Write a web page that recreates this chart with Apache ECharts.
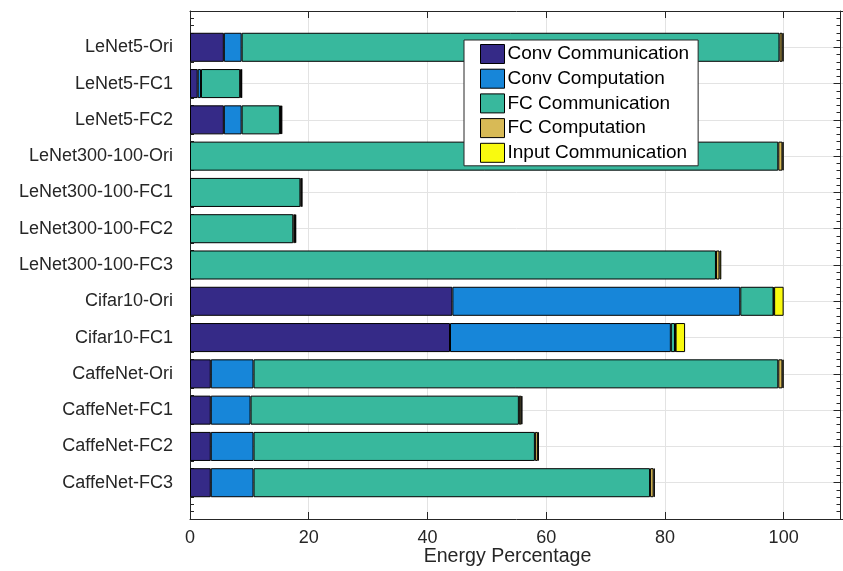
<!DOCTYPE html>
<html>
<head>
<meta charset="utf-8">
<script src="https://cdn.jsdelivr.net/npm/echarts@6/dist/echarts.min.js"></script>
<style>
  html, body { margin: 0; padding: 0; background: #ffffff; }
  #chart { width: 843px; height: 571px; }
</style>
</head>
<body>
<div id="chart"></div>
<script>
// Network variants, listed top to bottom
const models = [
  'LeNet5-Ori', 'LeNet5-FC1', 'LeNet5-FC2',
  'LeNet300-100-Ori', 'LeNet300-100-FC1', 'LeNet300-100-FC2', 'LeNet300-100-FC3',
  'Cifar10-Ori', 'Cifar10-FC1',
  'CaffeNet-Ori', 'CaffeNet-FC1', 'CaffeNet-FC2', 'CaffeNet-FC3'
];

// Energy share (%) of each component per network
const convCommunication  = [5.7, 1.3, 5.7, 0,    0,    0,    0,    44.2, 43.8, 3.5,  3.5,  3.5,  3.5];
const convComputation    = [3.0, 0.55, 3.0, 0,   0,    0,    0,    48.5, 37.2, 7.2,  6.7,  7.2,  7.2];
const fcCommunication    = [90.6, 6.6, 6.45, 99.1, 18.6, 17.4, 88.6, 5.6, 0.7,  88.4, 45.2, 47.4, 66.8];
const fcComputation      = [0.5, 0.2, 0.2, 0.7,  0.2,  0.3,  0.6,  0.1,  0.1,  0.7,  0.4,  0.5,  0.6];
const inputCommunication = [0.2, 0.1, 0.2, 0.2,  0.1,  0.2,  0.3,  1.6,  1.6,  0.2,  0.2,  0.15, 0.2];

const seriesNames = ['Conv Communication', 'Conv Computation', 'FC Communication', 'FC Computation', 'Input Communication'];
const xTicks = [0, 20, 40, 60, 80, 100];

const palette = ['#352A87', '#1786D9', '#38B89D', '#D8BA56', '#F9FA0F'];
const textColor = '#262626';
const fontFamily = '"Liberation Sans", Arial, Helvetica, sans-serif';

// Empty slots above and below the bars leave a margin inside the axes box
const categories = [''].concat(models, [' ']);
// Zero-width segments are skipped so they draw no stray edge line
const pad = (arr) => [null].concat(arr.map((v) => (v === 0 ? null : v)), [null]);

const columns = [convCommunication, convComputation, fcCommunication, fcComputation, inputCommunication];

const chart = echarts.init(document.getElementById('chart'), null, { renderer: 'canvas' });

const xMax = 110;
const yMinorAxis = (position, offset) => ({
  type: 'value',
  position: position,
  offset: offset,
  min: 0,
  max: categories.length - 1,
  interval: 1,
  inverse: true,
  axisLine: { show: false },
  axisLabel: { show: false },
  splitLine: { show: false },
  axisTick: { show: true, inside: true, length: 7, lineStyle: { color: textColor, width: 1 } },
  minorTick: { show: true, splitNumber: 5, length: 4, lineStyle: { color: textColor, width: 1 } },
  minorSplitLine: { show: false }
});

const option = {
  backgroundColor: '#ffffff',
  animation: false,
  textStyle: { fontFamily: fontFamily, color: textColor },
  grid: { left: 190, top: 11, width: 655, height: 508, containLabel: false },
  legend: {
    data: seriesNames,
    orient: 'vertical',
    left: 464,
    top: 40,
    padding: [4, 9, 3, 16],
    itemGap: 4.7,
    itemWidth: 24,
    itemHeight: 19,
    icon: 'rect',
    backgroundColor: '#ffffff',
    borderColor: textColor,
    borderWidth: 1,
    textStyle: { fontSize: 19, color: '#000000', fontFamily: fontFamily, padding: [0, 0, 0, -2] },
    itemStyle: { borderColor: '#000000', borderWidth: 1 }
  },
  xAxis: [
    {
      type: 'value',
      position: 'bottom',
      min: 0,
      max: xMax,
      interval: 20,
      axisLine: { show: true, onZero: false, lineStyle: { color: textColor, width: 1 } },
      axisTick: { show: true, inside: true, length: 7, lineStyle: { color: textColor } },
      axisLabel: {
        show: true,
        margin: 10,
        fontSize: 18,
        color: textColor,
        fontFamily: fontFamily,
        showMaxLabel: false,
        formatter: (v) => (xTicks.indexOf(v) >= 0 ? String(v) : '')
      },
      splitLine: { show: true, lineStyle: { color: '#e3e3e3', width: 1 } }
    },
    {
      type: 'value',
      position: 'top',
      min: 0,
      max: xMax,
      interval: 20,
      axisLine: { show: true, onZero: false, lineStyle: { color: textColor, width: 1 } },
      axisTick: { show: true, inside: true, length: 7, lineStyle: { color: textColor } },
      axisLabel: { show: false },
      splitLine: { show: false }
    }
  ],
  yAxis: [
    {
      type: 'category',
      position: 'left',
      data: categories,
      inverse: true,
      boundaryGap: false,
      axisLine: { show: true, onZero: false, lineStyle: { color: textColor, width: 1 } },
      axisTick: { show: false },
      axisLabel: {
        show: true,
        interval: 0,
        margin: 17,
        fontSize: 18,
        color: textColor,
        fontFamily: fontFamily
      },
      splitLine: { show: true, interval: 0, lineStyle: { color: '#e3e3e3', width: 1 } }
    },
    yMinorAxis('left', 0),
    Object.assign(yMinorAxis('right', -2.5), {
      axisLine: { show: true, onZero: false, lineStyle: { color: textColor, width: 1 } }
    })
  ],
  series: seriesNames.map((name, i) => ({
    name: name,
    type: 'bar',
    stack: 'energy',
    xAxisIndex: 0,
    yAxisIndex: 0,
    barWidth: '80%',
    data: pad(columns[i]),
    itemStyle: { color: palette[i], borderColor: '#000000', borderWidth: 1 },
    emphasis: { disabled: true }
  })),
  graphic: [
    {
      type: 'text',
      x: 507.5,
      y: 557,
      style: {
        text: 'Energy Percentage',
        fontSize: 19.6,
        fontFamily: fontFamily,
        fill: textColor,
        align: 'center',
        verticalAlign: 'middle'
      }
    }
  ]
};

chart.setOption(option);
</script>
</body>
</html>
